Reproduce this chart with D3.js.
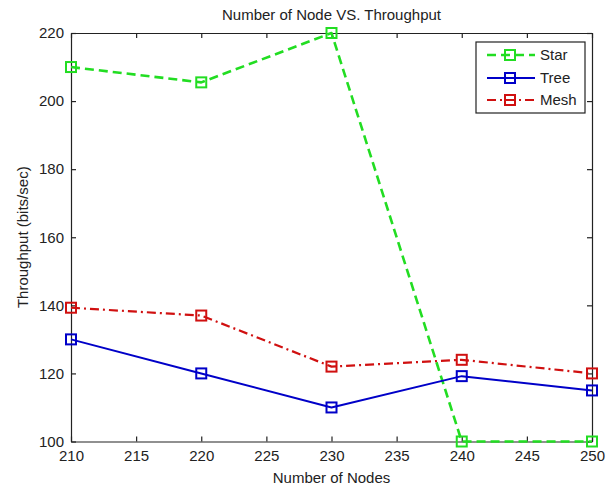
<!DOCTYPE html>
<html><head><meta charset="utf-8">
<script src="https://cdn.jsdelivr.net/npm/d3@7"></script>
<style>
body{margin:0;background:#fff;}
svg text{font-family:"Liberation Sans",Arial,sans-serif;fill:#222;}
</style></head>
<body><svg id="c" width="614" height="487"></svg>
<script>
const nodes = [210, 220, 230, 240, 250];
const star = [210, 205.5, 220, 100, 100];
const tree = [130, 120, 110, 119.2, 115];
const mesh = [139.3, 137, 122, 124, 120];
const seriesNames = ["Star", "Tree", "Mesh"];
const xTicks = [210, 215, 220, 225, 230, 235, 240, 245, 250];
const yTicks = [100, 120, 140, 160, 180, 200, 220];

const svg = d3.select("#c");
const L = 71, R = 592, T = 33, B = 441.5;
const x = d3.scaleLinear().domain([210, 250]).range([L, R]);
const y = d3.scaleLinear().domain([100, 220]).range([B, T]);

const styles = {
  Star: {color: "#22dd22", dash: "9,5", width: 2.6},
  Tree: {color: "#0000c8", dash: null, width: 2},
  Mesh: {color: "#d01010", dash: "9,4,2,4", width: 2.2}
};
const data = {Star: star, Tree: tree, Mesh: mesh};

// axes box
const fs = 15;
const xb = svg.append("g").attr("transform", `translate(0,${B})`)
  .call(d3.axisBottom(x).tickValues(xTicks).tickSizeInner(-5).tickSizeOuter(0).tickPadding(10).tickFormat(d3.format("d")));
const xt = svg.append("g").attr("transform", `translate(0,${T})`)
  .call(d3.axisTop(x).tickValues(xTicks).tickSizeInner(-5).tickSizeOuter(0).tickFormat(""));
const yl = svg.append("g").attr("transform", `translate(${L},0)`)
  .call(d3.axisLeft(y).tickValues(yTicks).tickSizeInner(-5).tickSizeOuter(0).tickPadding(7).tickFormat(d3.format("d")));
const yr = svg.append("g").attr("transform", `translate(${R},0)`)
  .call(d3.axisRight(y).tickValues(yTicks).tickSizeInner(-5).tickSizeOuter(0).tickFormat(""));
[xb, xt, yl, yr].forEach(g => {
  g.selectAll("path,line").attr("stroke", "#222").attr("stroke-width", 1.2);
  g.selectAll("text").attr("font-size", fs).attr("fill", "#222")
    .style("font-family", '"Liberation Sans",Arial,sans-serif');
});
xb.selectAll("text").attr("dy", "0.71em").attr("y", 8.5);
yl.selectAll("text").attr("dx", 0);

const line = d3.line().x((d, i) => x(nodes[i])).y(d => y(d));
seriesNames.forEach(n => {
  const s = styles[n];
  svg.append("path").datum(data[n]).attr("d", line)
    .attr("fill", "none").attr("stroke", s.color).attr("stroke-width", s.width)
    .attr("stroke-dasharray", s.dash).attr("stroke-linejoin", "round");
  svg.selectAll(null).data(data[n]).enter().append("rect")
    .attr("x", (d, i) => x(nodes[i]) - 5).attr("y", d => y(d) - 5)
    .attr("width", 10).attr("height", 10)
    .attr("fill", "none").attr("stroke", s.color).attr("stroke-width", 2);
});

// title & labels
svg.append("text").attr("x", (L + R) / 2).attr("y", 20).attr("text-anchor", "middle")
  .attr("font-size", 15).text("Number of Node VS. Throughput");
svg.append("text").attr("x", (L + R) / 2).attr("y", 483).attr("text-anchor", "middle")
  .attr("font-size", 15).text("Number of Nodes");
svg.append("text").attr("transform", `translate(28,${(T + B) / 2}) rotate(-90)`)
  .attr("text-anchor", "middle").attr("font-size", 15).text("Throughput (bits/sec)");

// legend
const lg = svg.append("g");
lg.append("rect").attr("x", 476).attr("y", 42).attr("width", 109).attr("height", 71)
  .attr("fill", "#fff").attr("stroke", "#222").attr("stroke-width", 1.2);
const ly = [55, 78, 100];
seriesNames.forEach((n, i) => {
  const s = styles[n];
  lg.append("line").attr("x1", 487).attr("x2", 535).attr("y1", ly[i]).attr("y2", ly[i])
    .attr("stroke", s.color).attr("stroke-width", s.width).attr("stroke-dasharray", s.dash);
  lg.append("rect").attr("x", 505).attr("y", ly[i] - 5).attr("width", 10).attr("height", 10)
    .attr("fill", "none").attr("stroke", s.color).attr("stroke-width", 2);
  lg.append("text").attr("x", 540).attr("y", ly[i]).attr("dy", "0.36em")
    .attr("font-size", 15).text(n);
});
</script></body></html>
